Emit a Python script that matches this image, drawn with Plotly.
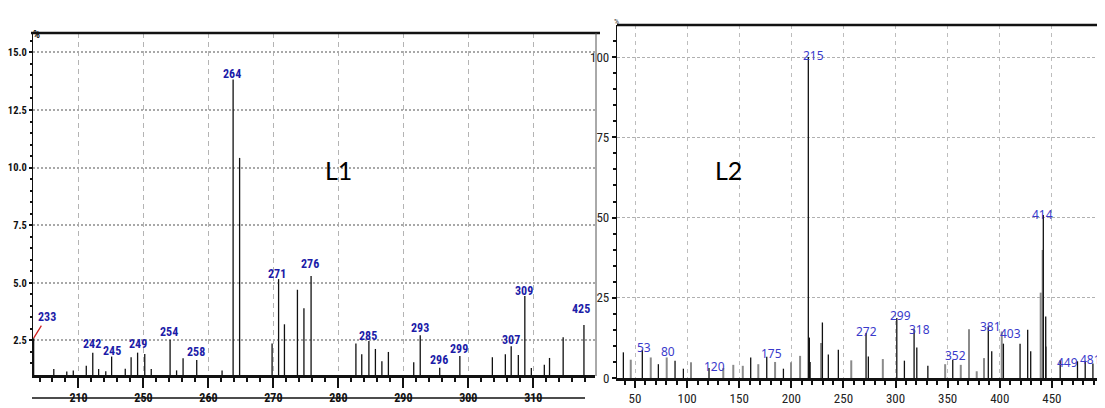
import numpy as np
import plotly.graph_objects as go

# page is 1105x408; the html body has an 8px margin, so the figure is 8px smaller
OFF = 8
FW, FH = 1105 - OFF, 408 - OFF


def px(X):
    return (X - OFF) / FW


def py(Y):
    return 1 - (Y - OFF) / FH


# ---------------- Left spectrum (L1) ----------------
L_x = [203.1, 206.2, 208.2, 209.2, 211.2, 212.2, 213.1, 214.2, 215.1, 217.2, 218.1, 219.1,
       220.2, 221.2, 224.1, 225.1, 226.1, 228.2, 232.1, 233.8, 234.8, 239.8, 240.8, 241.7,
       243.7, 244.7, 245.8, 252.7, 253.6, 254.7, 255.7, 256.7, 257.7, 261.6, 262.6, 265.6,
       268.7, 273.7, 275.7, 276.6, 277.7, 278.7, 279.7, 281.7, 282.5, 284.6, 287.8]
L_y = [2.6, 1.26, 1.15, 1.2, 1.4, 1.97, 1.26, 1.16, 1.8, 1.27, 1.77, 1.97,
       1.91, 1.26, 2.53, 1.2, 1.73, 1.65, 1.2, 13.82, 10.42, 2.37, 5.16, 3.2,
       4.7, 3.9, 5.3, 2.37, 1.9, 2.47, 2.13, 1.6, 2.0, 1.55, 2.73, 1.32,
       1.82, 1.77, 1.9, 2.25, 1.87, 4.43, 1.3, 1.45, 1.74, 2.64, 3.17]
L_base = 1.0
L_xticks = [210, 220, 230, 240, 250, 260, 270, 280]
L_xticktext = ["210", "250", "260", "270", "280", "290", "300", "310"]
L_yticks = [2.5, 5.0, 7.5, 10.0, 12.5, 15.0]
L_yticktext = ["2.5", "5.0", "7.5", "10.0", "12.5", "15.0"]

L_lab = ["233", "242", "245", "249", "254", "258", "264", "271", "276", "285", "293",
         "296", "299", "307", "309", "425"]
L_lab_x = [205.1, 212.15, 215.1, 219.1, 224.0, 228.15, 233.7, 240.6, 245.7, 254.6, 262.6,
           265.5, 268.6, 276.5, 278.6, 287.4]
L_lab_y = [3.54, 2.33, 2.02, 2.33, 2.85, 1.98, 14.05, 5.37, 5.8, 2.69, 3.02,
           1.63, 2.15, 2.54, 4.64, 3.85]

# ---------------- Right spectrum (L2) ----------------
R_black_x = [38.8, 57.0, 72.4, 88.4, 96.4, 121.0, 161.0, 176.4, 192.4, 216.3, 217.3, 218.0,
             229.8, 235.5, 245.1, 271.7, 273.9, 301.2, 308.5, 317.8, 320.4, 331.0, 354.9,
             389.0, 392.3, 403.5, 419.5, 426.8, 429.7, 441.8, 444.1, 458.0, 474.6, 482.0,
             489.4, 498.0]
R_black_y = [8.0, 8.8, 4.3, 5.4, 2.9, 3.1, 6.4, 6.6, 2.9, 100.0, 12.6, 5.0,
             17.3, 7.3, 8.8, 14.0, 6.7, 18.7, 5.4, 15.2, 9.5, 3.8, 5.7,
             16.1, 8.3, 10.7, 10.7, 15.0, 8.3, 50.8, 19.2, 5.5, 5.2, 5.4,
             4.5, 15.2]
R_gray_x = [45.9, 65.1, 80.4, 103.7, 134.7, 144.3, 153.4, 168.3, 184.4, 199.7, 208.4,
            228.5, 257.5, 287.8, 347.6, 362.6, 370.5, 377.9, 384.9, 401.9, 439.3,
            441.2, 444.4, 500.5]
R_gray_y = [5.7, 6.4, 6.4, 4.9, 3.1, 4.1, 3.8, 4.3, 5.0, 4.9, 6.9,
            10.9, 5.5, 5.9, 4.3, 4.1, 15.2, 2.1, 6.2, 14.5, 26.6,
            39.9, 9.8, 10.9]
R_xticks = [50, 100, 150, 200, 250, 300, 350, 400, 450, 500]
R_yticks = [0, 25, 50, 75, 100]

R_lab = ["53", "80", "120", "175", "215", "272", "299", "318", "352", "381", "403",
         "414", "449", "481"]
R_lab_x = [58.6, 81.7, 125.8, 181.2, 220.8, 272.4, 305.0, 322.8, 357.1, 390.7, 410.6,
           441.2, 465.3, 487.3]
R_lab_y = [9.4, 8.2, 3.6, 7.5, 100.6, 14.5, 19.5, 15.2, 6.9, 15.9, 14.0,
           50.8, 4.9, 5.7]

assert len(L_x) == len(L_y)
assert len(R_black_x) == len(R_black_y) and len(R_gray_x) == len(R_gray_y)


def stems(xs, ys, base):
    sx, sy = [], []
    for x, y in zip(xs, ys):
        sx += [x, x, None]
        sy += [base, y, None]
    return sx, sy


NARROW = ("Liberation Sans Narrow, Roboto Condensed, DejaVu Sans Condensed, "
          "Arial Narrow, sans-serif")

fig = go.Figure()

sx, sy = stems(L_x, L_y, L_base)
fig.add_trace(go.Scatter(x=sx, y=sy, mode="lines", line=dict(color="#111111", width=1.3),
                         xaxis="x", yaxis="y", hoverinfo="skip", showlegend=False))
sx, sy = stems(R_gray_x, R_gray_y, 0)
fig.add_trace(go.Scatter(x=sx, y=sy, mode="lines", line=dict(color="#8a8a8a", width=2),
                         xaxis="x2", yaxis="y2", hoverinfo="skip", showlegend=False))
sx, sy = stems(R_black_x, R_black_y, 0)
fig.add_trace(go.Scatter(x=sx, y=sy, mode="lines", line=dict(color="#111111", width=1.3),
                         xaxis="x2", yaxis="y2", hoverinfo="skip", showlegend=False))

annotations = []
for i, (t, x, y) in enumerate(zip(L_lab, L_lab_x, L_lab_y)):
    a = dict(text=t, x=x, y=y, xref="x", yref="y", xanchor="center", yanchor="middle",
             showarrow=False,
             font=dict(family=NARROW, size=12, color="#1c1ca8", weight="bold"))
    if i == 0:
        a.update(showarrow=True, x=L_x[0], y=L_y[0], ax=13, ay=-21, arrowhead=0,
                 arrowcolor="#d02020", arrowwidth=1.3, standoff=0)
    annotations.append(a)

for t, x, y in zip(R_lab, R_lab_x, R_lab_y):
    annotations.append(dict(text=t, x=x, y=y, xref="x2", yref="y2", xanchor="center",
                            yanchor="middle", showarrow=False,
                            font=dict(family="Noto Sans, DejaVu Sans, sans-serif", size=12,
                                      color="#3a3acb")))

annotations += [
    dict(text="L1", x=px(323), y=py(170), xref="paper", yref="paper", showarrow=False,
         font=dict(family="Lato, Open Sans, sans-serif", size=25, color="#000000")),
    dict(text="L2", x=px(728), y=py(170), xref="paper", yref="paper", showarrow=False,
         font=dict(family="Lato, Open Sans, sans-serif", size=25, color="#000000")),
    dict(text="%", x=px(31), y=py(26), xref="paper", yref="paper", showarrow=False,
         font=dict(family=NARROW, size=11, color="#111111", weight="bold")),
    dict(text="%", x=px(616), y=py(15), xref="paper", yref="paper", showarrow=False,
         font=dict(family=NARROW, size=8, color="#333333")),
]

shapes = [
    dict(type="line", xref="paper", yref="paper", x0=px(31), x1=px(600),
         y0=py(33), y1=py(33), line=dict(color="#111111", width=2.5)),
    dict(type="line", xref="paper", yref="paper", x0=px(596), x1=px(596),
         y0=py(376), y1=py(33), line=dict(color="#555555", width=1)),
    dict(type="line", xref="paper", yref="paper", x0=px(32), x1=px(585),
         y0=py(398), y1=py(398), line=dict(color="#111111", width=1.5), layer="below"),
    dict(type="line", xref="paper", yref="paper", x0=px(617), x1=1.0,
         y0=py(25), y1=py(25), line=dict(color="#111111", width=2.5)),
]

tick_narrow_bold = dict(family=NARROW, size=12, color="#111111", weight="bold")
tick_y_left = dict(family=NARROW, size=10.5, color="#111111", weight="bold")
tick_narrow = dict(family=NARROW, size=13, color="#222222")

fig.update_layout(
    width=FW, height=FH, margin=dict(l=0, r=0, t=0, b=0, autoexpand=False),
    paper_bgcolor="white", plot_bgcolor="white", showlegend=False,
    xaxis=dict(domain=[px(33), px(595)], range=[203.0, 289.5], anchor="y", automargin=False,
               tickmode="array", tickvals=L_xticks, ticktext=L_xticktext,
               ticks="outside", ticklen=10, tickwidth=1.5, tickcolor="#111111",
               showline=True, linewidth=2.5, linecolor="#111111",
               showgrid=True, gridcolor="#b4b4b4", griddash="5px,4px", gridwidth=1,
               zeroline=False,
               minor=dict(tickvals=list(range(204, 290, 2)), ticks="outside", ticklen=4,
                          tickcolor="#111111", showgrid=False),
               tickfont=tick_narrow_bold),
    yaxis=dict(domain=[py(375), py(33)], range=[1.0, 15.84], anchor="x",
               automargin=False,
               tickmode="array", tickvals=L_yticks, ticktext=L_yticktext,
               ticks="outside", ticklen=3, tickwidth=1.5, tickcolor="#111111",
               showline=True, linewidth=1.2, linecolor="#111111",
               showgrid=True, gridcolor="#a8a8a8", griddash="2px,2px", gridwidth=1.5,
               zeroline=False,
               minor=dict(tickvals=[v / 2 for v in range(3, 32)], ticks="outside", ticklen=2,
                          tickcolor="#111111", showgrid=False),
               tickfont=tick_y_left),
    xaxis2=dict(domain=[px(617), 1.0], range=[32.7, 501], anchor="y2", automargin=False,
                tickmode="array", tickvals=R_xticks,
                ticks="outside", ticklen=7, tickwidth=1.5, tickcolor="#111111",
                showline=True, linewidth=2.5, linecolor="#111111",
                showgrid=True, gridcolor="#bdbdbd", griddash="4px,4px", gridwidth=1,
                zeroline=False,
                minor=dict(tickvals=list(range(40, 501, 10)), ticks="outside", ticklen=4,
                           tickcolor="#111111", showgrid=False),
                tickfont=tick_narrow),
    yaxis2=dict(domain=[py(378), py(25)], range=[0, 110], anchor="x2",
                automargin=False,
                tickmode="array", tickvals=R_yticks,
                ticks="outside", ticklen=4, tickwidth=1.5, tickcolor="#111111",
                showline=True, linewidth=1.2, linecolor="#111111",
                showgrid=True, gridcolor="#b0b0b0", griddash="3px,2px", gridwidth=1.2,
                zeroline=False,
                minor=dict(tickvals=list(range(5, 110, 5)), ticks="outside", ticklen=3,
                           tickcolor="#111111", showgrid=False),
                tickfont=tick_narrow),
    annotations=annotations, shapes=shapes,
)

fig.write_html("out.html")
